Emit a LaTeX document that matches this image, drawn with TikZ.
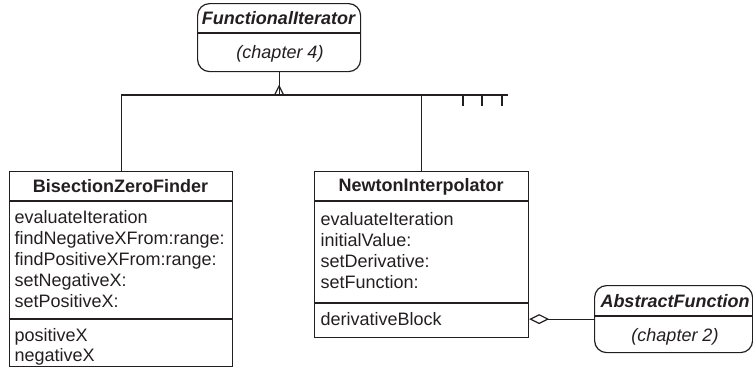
\documentclass[tikz,border=0pt]{standalone}
\usepackage{fontspec}
\setmainfont{Liberation Sans}
\usetikzlibrary{arrows.meta}
\definecolor{ink}{HTML}{231F20}
\begin{document}
\begin{tikzpicture}[x=1pt,y=-1pt,line width=1.2pt,draw=ink,
  cls/.style={draw=ink,rectangle,anchor=north west,inner sep=0pt},
  ext/.style={draw=ink,rectangle,rounded corners=12pt,anchor=north west,inner sep=0pt},
  txt/.style={anchor=base west,inner sep=0pt,text=ink,font=\fontsize{18}{21}\selectfont},
  ttl/.style={anchor=base,inner sep=0pt,text=ink,font=\fontsize{18}{21}\selectfont\bfseries},
  ettl/.style={anchor=base,inner sep=0pt,text=ink,font=\fontsize{18}{21}\selectfont\bfseries\itshape},
  enote/.style={anchor=base,inner sep=0pt,text=ink,font=\fontsize{18}{21}\selectfont\itshape}]
\useasboundingbox (0,0) rectangle (753,367);

% boxes
\node[ext,minimum width=163pt,minimum height=68pt] (fi) at (197,3) {};
\node[cls,minimum width=223pt,minimum height=194.5pt] (bzf) at (9,171) {};
\node[cls,minimum width=214pt,minimum height=166pt] (ni) at (314,171) {};
\node[ext,minimum width=158pt,minimum height=67pt] (af) at (594,285) {};

% dividers
\draw (fi.west |- 0,33) -- (fi.east |- 0,33);
\draw (bzf.west |- 0,201) -- (bzf.east |- 0,201);
\draw (bzf.west |- 0,319) -- (bzf.east |- 0,319);
\draw (ni.west |- 0,201) -- (ni.east |- 0,201);
\draw (ni.west |- 0,303) -- (ni.east |- 0,303);
\draw (af.west |- 0,316) -- (af.east |- 0,316);

% texts
\node[ettl] (fit) at (278.5,24) {FunctionalIterator};
\node[enote] (fin) at (280,58) {(chapter 4)};
\node[ettl] (aft) at (675,307) {AbstractFunction};
\node[enote] (afn) at (675,341) {(chapter 2)};

\node[ttl] (bzft) at (120.5,192) {BisectionZeroFinder};
\node[txt] (b1) at (14,223) {evaluateIteration};
\node[txt] (b2) at (14,244) {findNegativeXFrom:range:};
\node[txt] (b3) at (14,265) {findPositiveXFrom:range:};
\node[txt] (b4) at (14,286) {setNegativeX:};
\node[txt] (b5) at (14,307) {setPositiveX:};
\node[txt] (b6) at (14,341) {positiveX};
\node[txt] (b7) at (14,361) {negativeX};

\node[ttl] (nit) at (421,191) {NewtonInterpolator};
\node[txt] (n1) at (320,225) {evaluateIteration};
\node[txt] (n2) at (320,246) {initialValue:};
\node[txt] (n3) at (320,267) {setDerivative:};
\node[txt] (n4) at (320,288) {setFunction:};
\node[txt] (n5) at (320,325) {derivativeBlock};

% inheritance tree
\coordinate (hl) at (bzf.north |- 0,95);
\coordinate (hr) at (508,95);
\coordinate (hj) at (fi.south |- hl);
\draw (fi.south) -- (hj);
\draw (hl) -- (hr);
\draw (hl) -- (bzf.north);
\draw (ni.north |- hl) -- (ni.north);
\draw[line join=miter] (hj) ++(-4.5,0) -- ++(4.5,-9) -- ++(4.5,9);
\foreach \x in {463,482,502} \draw (\x,95) -- (\x,106);

% aggregation
\draw[{Diamond[open,length=20pt,width=10pt]}-] (ni.east |- af.west) -- (af.west);
\end{tikzpicture}
\end{document}
